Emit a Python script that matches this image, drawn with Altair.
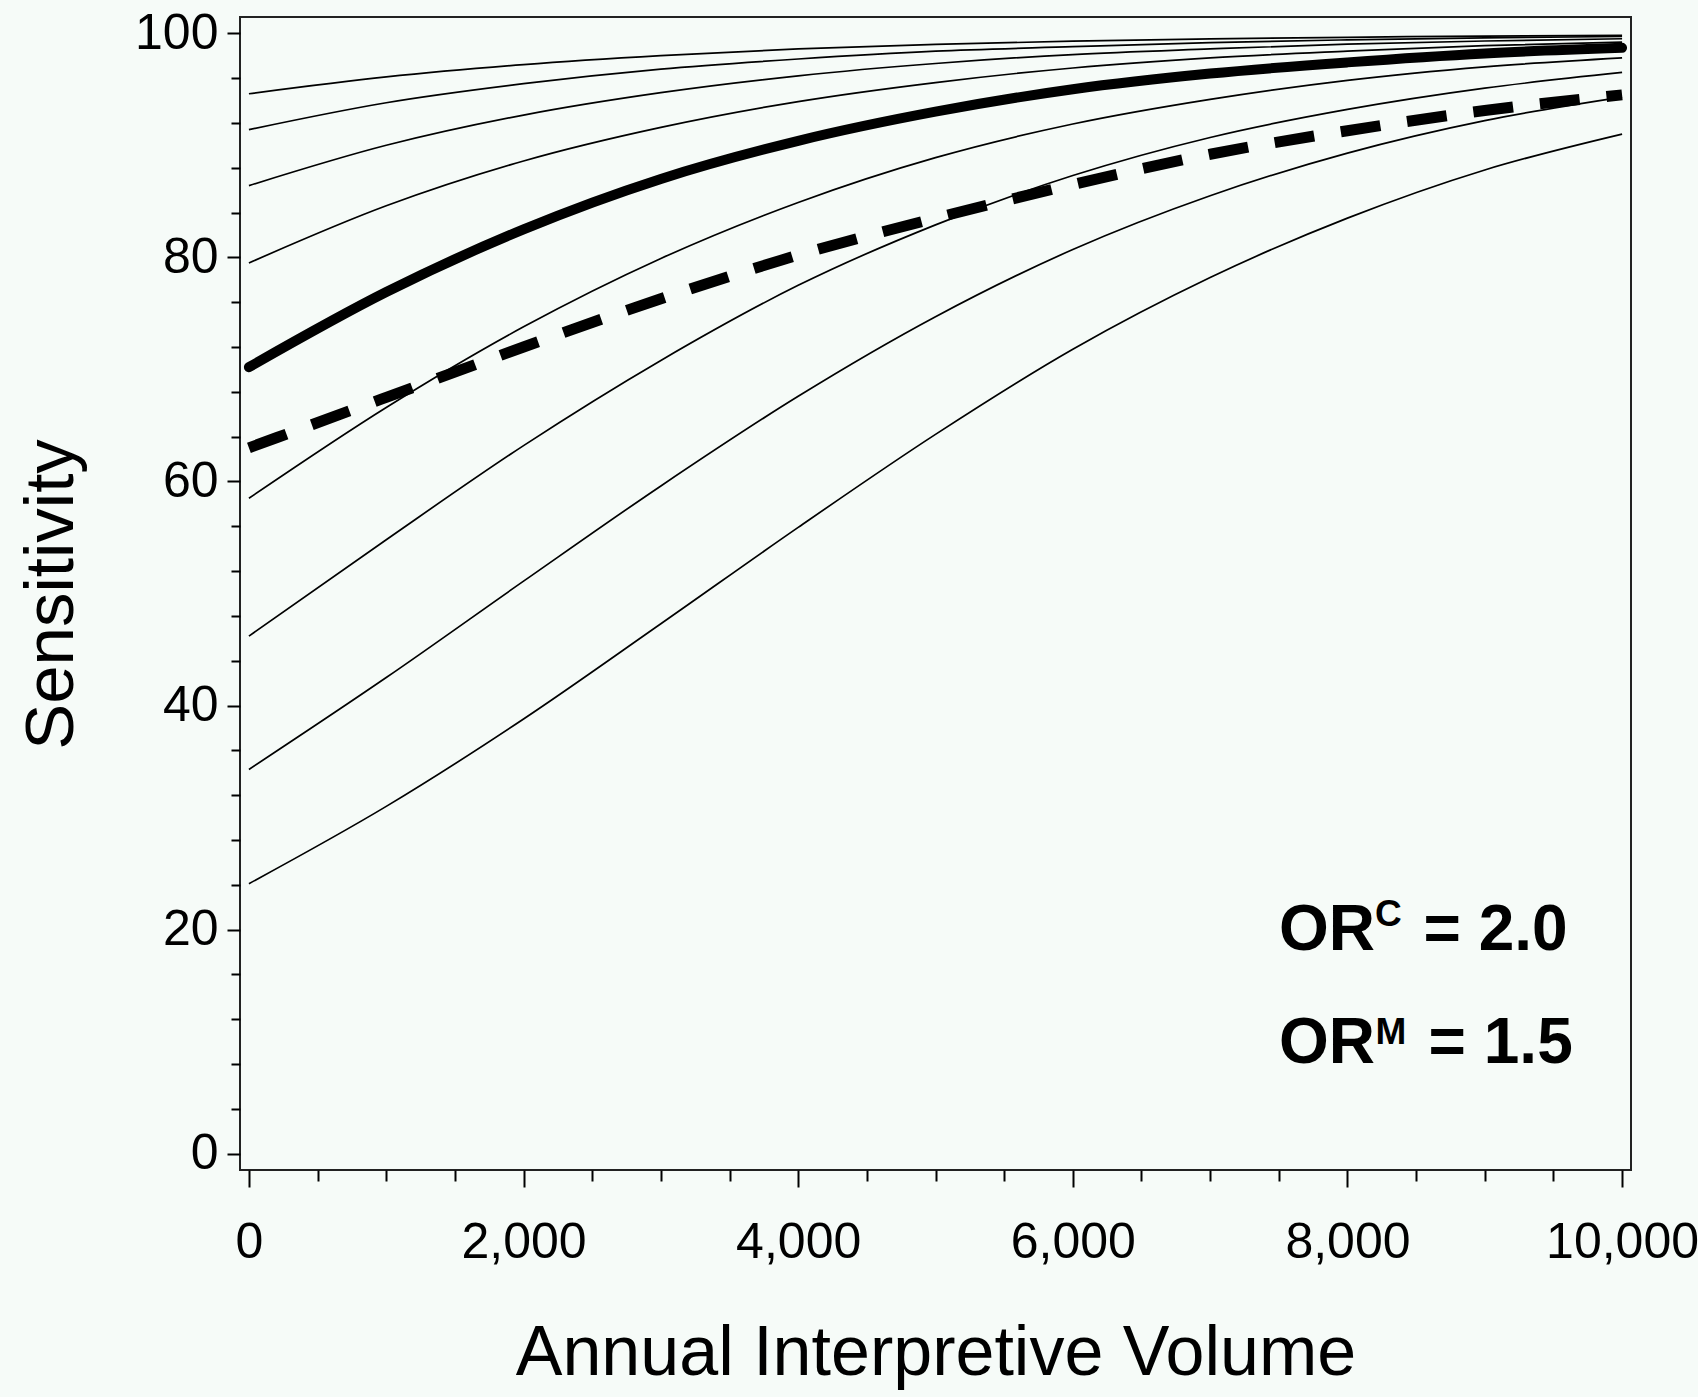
import altair as alt
import pandas as pd

# ---- data ----
volume = [0, 1000, 2000, 3000, 4000, 5000, 6000, 7000, 8000, 9000, 10000]

thin_a = [94.6, 96.1, 97.2, 98.0, 98.6, 99.0, 99.3, 99.5, 99.64, 99.75, 99.82]
thin_b = [91.4, 93.8, 95.5, 96.8, 97.7, 98.4, 98.8, 99.17, 99.41, 99.59, 99.71]
thin_c = [86.4, 90.0, 92.7, 94.7, 96.2, 97.3, 98.1, 98.6, 99.03, 99.31, 99.51]
thin_d = [79.5, 84.6, 88.6, 91.6, 93.9, 95.6, 96.9, 97.8, 98.4, 98.9, 99.2]
thin_f = [58.5, 66.6, 73.8, 79.9, 84.9, 88.9, 91.9, 94.1, 95.8, 97.0, 97.8]
thin_g = [46.2, 54.8, 63.2, 70.8, 77.5, 82.9, 87.3, 90.7, 93.2, 95.1, 96.5]
thin_h = [34.3, 42.5, 51.1, 59.6, 67.6, 74.7, 80.7, 85.5, 89.3, 92.2, 94.3]
thin_i = [24.1, 31.0, 38.8, 47.3, 55.9, 64.2, 71.8, 78.2, 83.5, 87.8, 91.0]

thick_curve = [70.2, 76.9, 82.5, 87.0, 90.4, 93.0, 95.0, 96.4, 97.4, 98.2, 98.7]
dashed_curve = [63.0, 67.5, 72.0, 76.3, 80.2, 83.5, 86.5, 89.2, 91.3, 93.1, 94.5]

x_ticks = list(range(0, 10001, 500))
y_ticks = list(range(0, 101, 2))

ann_main_text = ["OR", "= 2.0", "OR", "= 1.5"]
ann_main_x = [7502, 8554, 7502, 8591]
ann_main_y = [18.2, 18.2, 8.1, 8.1]
ann_sup_text = ["C", "M"]
ann_sup_x = [8201, 8204]
ann_sup_y = [20.3, 9.8]

# ---- tables ----
thin_sets = {"a": thin_a, "b": thin_b, "c": thin_c, "d": thin_d,
             "f": thin_f, "g": thin_g, "h": thin_h, "i": thin_i}
rows = []
for name, vals in thin_sets.items():
    for v, s in zip(volume, vals):
        rows.append({"curve": name, "volume": v, "sens": s})
thin_df = pd.DataFrame(rows)
thick_df = pd.DataFrame({"volume": volume, "sens": thick_curve})
dash_df = pd.DataFrame({"volume": volume, "sens": dashed_curve})
ann_main = pd.DataFrame({"volume": ann_main_x, "sens": ann_main_y, "t": ann_main_text})
ann_sup = pd.DataFrame({"volume": ann_sup_x, "sens": ann_sup_y, "t": ann_sup_text})

FONT = "Liberation Sans"

x_enc = alt.X(
    "volume:Q",
    scale=alt.Scale(domain=[-65, 10065], nice=False, zero=False),
    axis=alt.Axis(
        title="Annual Interpretive Volume",
        values=x_ticks,
        labelExpr="datum.value % 2000 === 0 ? format(datum.value, ',') : ''",
        tickSize={"condition": {"test": "datum.value % 2000 === 0", "value": 17}, "value": 11},
        labelPadding=30,
        titlePadding=52,
        labelOverlap=False,
        labelFlush=False,
        grid=False,
        domain=False,
    ),
)
y_enc = alt.Y(
    "sens:Q",
    scale=alt.Scale(domain=[-1.45, 101.45], nice=False, zero=False),
    axis=alt.Axis(
        title="Sensitivity",
        values=y_ticks,
        labelExpr="datum.value % 20 === 0 ? format(datum.value, 'd') : ''",
        tickSize={"condition": {"test": "datum.value % 20 === 0", "value": 13}, "value": 9},
        labelPadding=9,
        titleX=-154,
        titleY=577,
        titleAngle=270,
        titleAlign="center",
        titleBaseline="bottom",
        labelOverlap=False,
        labelFlush=False,
        grid=False,
        domain=False,
    ),
)

thin = alt.Chart(thin_df).mark_line(
    color="black", strokeWidth=1.7, interpolate="monotone"
).encode(x=x_enc, y=y_enc, detail="curve:N")

thick = alt.Chart(thick_df).mark_line(
    color="black", strokeWidth=10, strokeCap="round", interpolate="monotone"
).encode(x="volume:Q", y="sens:Q")

dashed = alt.Chart(dash_df).mark_line(
    color="black", strokeWidth=11, strokeDash=[40, 27], strokeCap="butt",
    interpolate="monotone"
).encode(x="volume:Q", y="sens:Q")

txt_main = alt.Chart(ann_main).mark_text(
    font=FONT, fontSize=64, fontWeight="bold", color="black",
    align="left", baseline="alphabetic"
).encode(x="volume:Q", y="sens:Q", text="t:N")

txt_sup = alt.Chart(ann_sup).mark_text(
    font=FONT, fontSize=37, fontWeight="bold", color="black",
    align="left", baseline="alphabetic"
).encode(x="volume:Q", y="sens:Q", text="t:N")

chart = alt.layer(thin, thick, dashed, txt_main, txt_sup).properties(
    width=1391,
    height=1153,
    autosize=alt.AutoSizeParams(type="none"),
    padding={"left": 240, "top": 17, "right": 67, "bottom": 227},
    background="#f6fbf8",
).configure_view(
    stroke="#222222", strokeWidth=2, fill="#f6fbf8"
).configure_axis(
    labelFont=FONT, labelFontSize=50, labelColor="black",
    titleFont=FONT, titleColor="black", titleFontWeight="normal",
    tickColor="black", tickWidth=2,
).configure_axisX(
    titleFontSize=70
).configure_axisY(
    titleFontSize=69
)

chart.save("out.html", embed_options={"renderer": "svg", "actions": False})
